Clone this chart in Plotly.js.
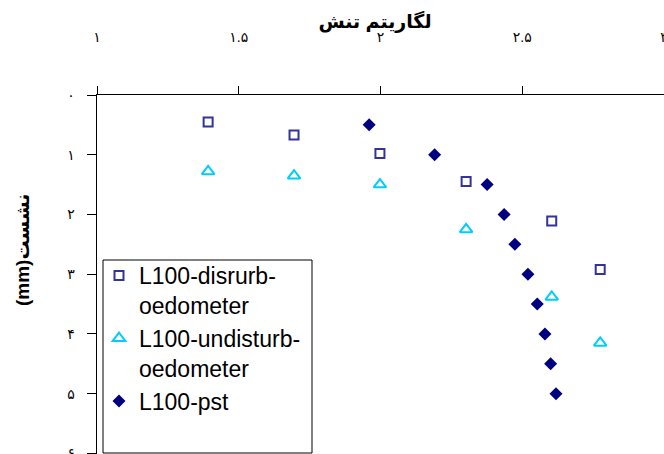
<!DOCTYPE html>
<html>
<head>
<meta charset="utf-8">
<script src="https://cdn.plot.ly/plotly-3.0.1.min.js"></script>
<style>
  html, body { margin: 0; padding: 0; background: #ffffff; }
  #chart { width: 664px; height: 454px; }
</style>
</head>
<body>
<div id="chart"></div>
<script>
// log of stress (shared by the two oedometer series)
const oedStress = [1.392, 1.695, 1.998, 2.302, 2.604, 2.775];
// settlement (mm), disturbed oedometer sample
const settleDisturbed = [0.45, 0.67, 0.98, 1.45, 2.11, 2.92];
// settlement (mm), undisturbed oedometer sample
const settleUndisturbed = [1.28, 1.35, 1.50, 2.25, 3.38, 4.15];
// plate settlement test
const pstStress = [1.960, 2.191, 2.376, 2.436, 2.474, 2.520, 2.553, 2.580, 2.600, 2.619];
const pstSettle = [0.5, 1.0, 1.5, 2.0, 2.5, 3.0, 3.5, 4.0, 4.5, 5.0];

const seriesNames = ['L100-disrurb-<br>oedometer', 'L100-undisturb-<br>oedometer', 'L100-pst'];

const xTickVals = [1, 1.5, 2, 2.5, 3];
const xTickText = ['۱', '۱.۵', '۲', '۲.۵', '۳'];
const yTickVals = [0, 1, 2, 3, 4, 5, 6];
const yTickText = ['۰', '۱', '۲', '۳', '۴', '۵', '۶'];

const FONT = 'Arial, "Liberation Sans", "DejaVu Sans", sans-serif';

// plot area in pixels: left 97, top 95, width 567, height 359
const PL = 97, PT = 95, PW = 567, PH = 359;
const px = v => (v - PL) / PW;
const py = v => 1 - (v - PT) / PH;

const traces = [
  {
    x: oedStress, y: settleDisturbed, name: seriesNames[0],
    type: 'scatter', mode: 'markers',
    marker: { symbol: 'square-open', size: 9, color: '#333399', line: { width: 2, color: '#333399' } }
  },
  {
    x: oedStress, y: settleUndisturbed, name: seriesNames[1],
    type: 'scatter', mode: 'markers',
    marker: { symbol: 'triangle-up-open', size: 11, color: '#00CCFF', line: { width: 2, color: '#00CCFF' } }
  },
  {
    x: pstStress, y: pstSettle, name: seriesNames[2],
    type: 'scatter', mode: 'markers',
    marker: { symbol: 'diamond', size: 10, color: '#000080', line: { width: 0 } }
  }
];

const layout = {
  width: 664, height: 454,
  margin: { l: PL, r: 0, t: PT, b: 0, pad: 0 },
  paper_bgcolor: '#ffffff', plot_bgcolor: '#ffffff',
  font: { family: FONT, color: '#000000' },
  showlegend: true,
  title: {
    text: 'لگاریتم تنش',
    font: { family: FONT, size: 19, weight: 'bold', color: '#000000' },
    x: 375 / 664, xanchor: 'center', xref: 'container',
    y: 1 - 21 / 454, yanchor: 'middle', yref: 'container'
  },
  xaxis: {
    side: 'top', range: [1, 3],
    tickmode: 'array', tickvals: xTickVals, ticktext: xTickText,
    ticks: 'outside', ticklen: 8, tickwidth: 1, tickcolor: '#000000',
    showline: true, linecolor: '#000000', linewidth: 1.3,
    showgrid: false, zeroline: false,
    tickfont: { family: FONT, size: 14, color: '#000000' },
    ticklabelstandoff: 38, ticklabeloverflow: 'allow'
  },
  yaxis: {
    range: [6.01, 0],
    tickmode: 'array', tickvals: yTickVals, ticktext: yTickText,
    ticks: 'outside', ticklen: 9, tickwidth: 1, tickcolor: '#000000',
    showline: true, linecolor: '#000000', linewidth: 1.3,
    showgrid: false, zeroline: false,
    tickfont: { family: FONT, size: 14, color: '#000000' },
    ticklabelstandoff: 9, ticklabeloverflow: 'allow'
  },
  legend: {
    x: px(99), y: py(254),
    xanchor: 'left', yanchor: 'top',
    bgcolor: 'rgba(0,0,0,0)', borderwidth: 0,
    font: { family: FONT, size: 23, color: '#000000' },
    valign: 'top', tracegroupgap: 0
  },
  // legend frame
  shapes: [
    {
      type: 'rect', xref: 'paper', yref: 'paper', layer: 'below',
      x0: px(103), x1: px(312), y0: py(260), y1: py(453),
      line: { color: '#000000', width: 1 }, fillcolor: '#ffffff'
    }
  ],
  annotations: [
    {
      text: '(mm)نشست', textangle: -90,
      xref: 'paper', yref: 'paper',
      x: px(23), y: py(250),
      xanchor: 'center', yanchor: 'middle', showarrow: false,
      font: { family: FONT, size: 19, weight: 'bold', color: '#000000' }
    }
  ]
};

Plotly.newPlot('chart', traces, layout, { displayModeBar: false, staticPlot: true });
</script>
</body>
</html>
